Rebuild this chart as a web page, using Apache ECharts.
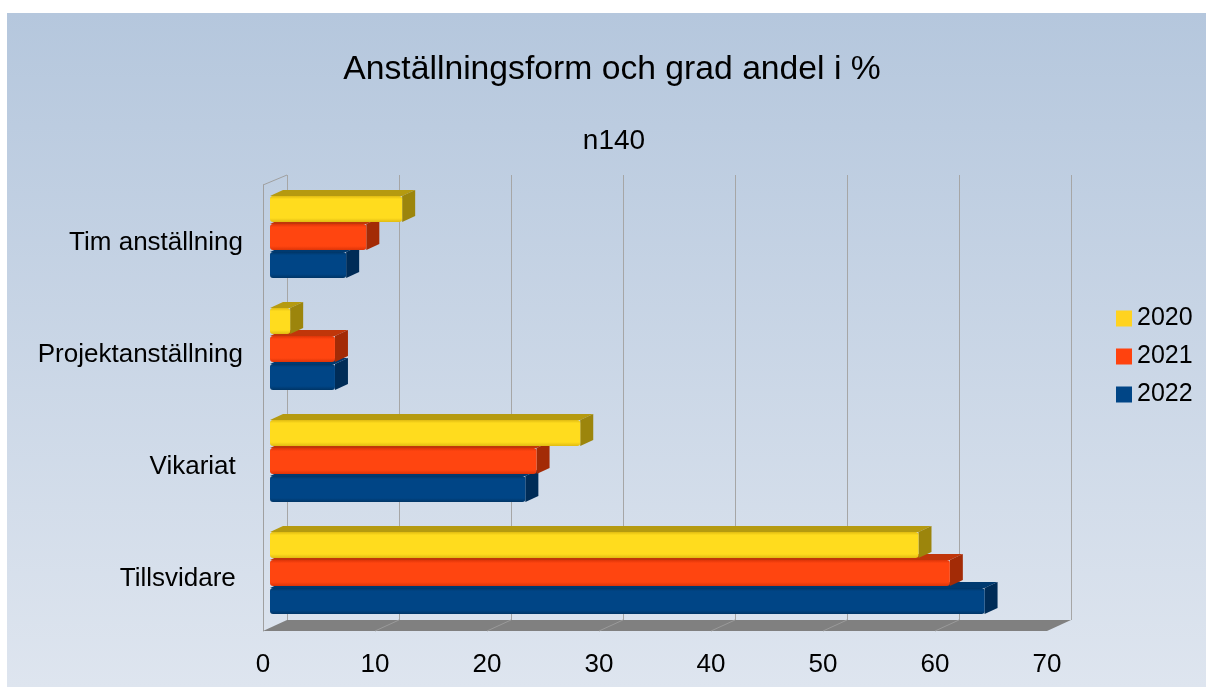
<!DOCTYPE html>
<html style="height: 100%">
<head>
    <meta charset="utf-8">
    <title>Anställningsform och grad andel i %</title>
</head>
<body style="height: 100%; margin: 0; background: #fff">
<div id="container" style="width: 1206px; height: 687px"></div>
<script type="text/javascript" src="https://cdn.jsdelivr.net/npm/echarts@6/dist/echarts.min.js"></script>
<script type="text/javascript">
    // data
    var years = ['2020', '2021', '2022'];
    var categories = ['Tim anställning', 'Projektanställning', 'Vikariat ', 'Tillsvidare '];
    var v2020 = [11.8, 1.8, 27.7, 57.9];
    var v2021 = [8.6, 5.8, 23.8, 60.7];
    var v2022 = [6.8, 5.8, 22.8, 63.8];
    var xTicks = [0, 10, 20, 30, 40, 50, 60, 70];

    var font = '"Liberation Sans", Arial, sans-serif';

    var palettes = [
        {legend: '#ffd320', front: '#ffdc1e', edge: '#e0bb12', top: '#b59a10', side: '#9c850c'},
        {legend: '#ff420e', front: '#ff4510', edge: '#dd3408', top: '#c0360a', side: '#a32b06'},
        {legend: '#004586', front: '#004586', edge: '#003566', top: '#003a70', side: '#002c57'}
    ];

    function makeRender(idx) {
        var pal = palettes[idx];
        return function (params, api) {
            var v = api.value(0), c = api.value(1);
            var p0 = api.coord([0, c]);
            var p1 = api.coord([v, c]);
            var band = api.size([0, 1])[1];
            var pitch = band * 0.25, h = pitch * 0.93;
            var cy = p0[1] + (idx - 1) * pitch;
            var y0 = cy - h / 2, y1 = cy + h / 2;
            var x0 = p0[0], x1 = p1[0];
            var dx = 13, dy = 6;
            return {
                type: 'group',
                children: [
                    {type: 'polygon', shape: {points: [[x0, y0], [x0 + dx, y0 - dy], [x1 + dx, y0 - dy], [x1, y0]]},
                        style: {fill: pal.top}},
                    {type: 'polygon', shape: {points: [[x1, y0], [x1 + dx, y0 - dy], [x1 + dx, y1 - dy], [x1, y1]]},
                        style: {fill: pal.side}},
                    {type: 'rect', shape: {x: x0, y: y0, width: x1 - x0, height: h, r: 3},
                        style: {
                            fill: new echarts.graphic.LinearGradient(0, 0, 0, 1, [
                                {offset: 0, color: pal.edge},
                                {offset: 0.12, color: pal.front},
                                {offset: 0.85, color: pal.front},
                                {offset: 1, color: pal.edge}
                            ])
                        }}
                ]
            };
        };
    }

    function seriesFor(idx, values) {
        return {
            name: years[idx],
            type: 'custom',
            xAxisIndex: 0,
            yAxisIndex: 0,
            renderItem: makeRender(idx),
            itemStyle: {color: palettes[idx].legend},
            encode: {x: 0, y: 1},
            data: values.map(function (v, i) { return [v, i]; }),
            z: 3
        };
    }

    var floorLines = [];
    for (var k = 1; k < xTicks.length - 1; k++) {
        floorLines.push({
            type: 'line', z: 1, silent: true,
            shape: {x1: 287 + 112 * k, y1: 620, x2: 263 + 112 * k, y2: 631},
            style: {stroke: '#9a9a9a', lineWidth: 1}
        });
    }

    var dom = document.getElementById('container');
    var myChart = echarts.init(dom);
    var option = {
        animation: false,
        backgroundColor: '#ffffff',
        textStyle: {fontFamily: font},
        title: [{
            text: 'Anställningsform och grad andel i %',
            left: 607, top: 48, textAlign: 'center',
            textStyle: {fontFamily: font, fontSize: 33.7, fontWeight: 'normal', color: '#000'}
        }, {
            text: 'n140',
            left: 609, top: 122, textAlign: 'center',
            textStyle: {fontFamily: font, fontSize: 28, fontWeight: 'normal', color: '#000'}
        }],
        legend: {
            orient: 'vertical',
            left: 1111, top: 301,
            itemWidth: 16, itemHeight: 16, itemGap: 13,
            icon: 'rect',
            data: years,
            textStyle: {fontFamily: font, fontSize: 25, color: '#000'}
        },
        graphic: [
            {type: 'rect', z: -10, silent: true,
                shape: {x: 7, y: 13, width: 1199, height: 674},
                style: {fill: new echarts.graphic.LinearGradient(0, 0, 0, 1, [
                    {offset: 0, color: '#b5c7dd'},
                    {offset: 1, color: '#dee5ef'}
                ])}},
            {type: 'polygon', z: 1, silent: true,
                shape: {points: [[263, 631], [1047, 631], [1071, 620], [287, 620]]},
                style: {fill: '#808080'}},
            {type: 'line', z: 1, silent: true,
                shape: {x1: 263, y1: 185, x2: 287, y2: 175},
                style: {stroke: '#a0a0a0', lineWidth: 1}}
        ].concat(floorLines),
        grid: [
            {left: 270, right: 152, top: 181, bottom: 58},
            {left: 287, right: 135, top: 175, bottom: 67},
            {left: 263, right: 159, top: 185, bottom: 56},
            {left: 270, right: 152, top: 187, bottom: 52}
        ],
        xAxis: [{
            gridIndex: 0, type: 'value', min: 0, max: 70, interval: 10, show: false
        }, {
            gridIndex: 1, type: 'value', min: 0, max: 70, interval: 10,
            axisLine: {show: false}, axisTick: {show: false}, axisLabel: {show: false},
            splitLine: {show: true, lineStyle: {color: '#a6a6a6', width: 1}}
        }, {
            gridIndex: 2, type: 'value', min: 0, max: 70, interval: 10,
            axisLine: {show: false}, axisTick: {show: false}, splitLine: {show: false},
            axisLabel: {fontFamily: font, fontSize: 26, color: '#000', margin: 21}
        }, {
            gridIndex: 3, type: 'value', min: 0, max: 70, show: false
        }],
        yAxis: [{
            gridIndex: 0, type: 'category', data: categories, inverse: true, show: false
        }, {
            gridIndex: 1, type: 'value', show: false
        }, {
            gridIndex: 2, type: 'value',
            axisLine: {show: true, lineStyle: {color: '#a0a0a0', width: 1}},
            axisTick: {show: false}, axisLabel: {show: false}, splitLine: {show: false}
        }, {
            gridIndex: 3, type: 'category', data: categories, inverse: true,
            axisLine: {show: false}, axisTick: {show: false}, splitLine: {show: false},
            axisLabel: {fontFamily: font, fontSize: 26, color: '#000', margin: 27}
        }],
        series: [
            seriesFor(2, v2022),
            seriesFor(1, v2021),
            seriesFor(0, v2020)
        ]
    };
    myChart.setOption(option);
</script>
</body>
</html>
